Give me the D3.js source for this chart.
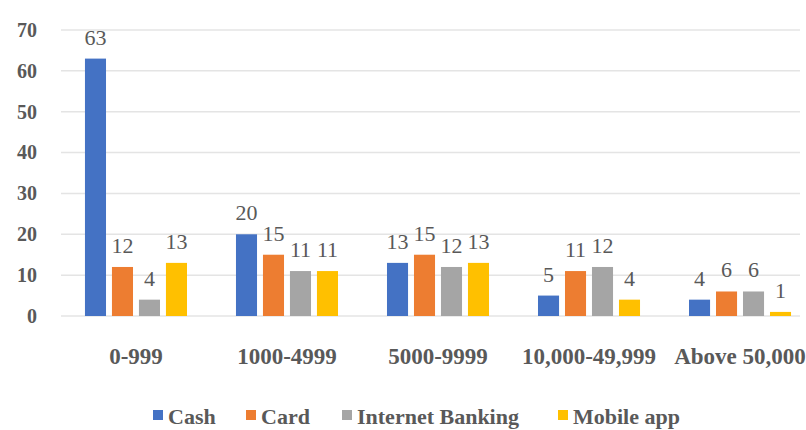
<!DOCTYPE html>
<html>
<head>
<meta charset="utf-8">
<script src="https://cdn.jsdelivr.net/npm/d3@7"></script>
<style>
  body { margin: 0; background: #fff; }
  svg text { font-family: "Liberation Serif", "DejaVu Serif", "Times New Roman", serif !important; }
</style>
</head>
<body>
<div id="chart"></div>
<script>
const categories = ["0-999", "1000-4999", "5000-9999", "10,000-49,999", "Above 50,000"];
const seriesNames = ["Cash", "Card", "Internet Banking", "Mobile app"];
const cash = [63, 20, 13, 5, 4];
const card = [12, 15, 15, 11, 6];
const internetBanking = [4, 11, 12, 12, 6];
const mobileApp = [13, 11, 13, 4, 1];
const yTicks = [0, 10, 20, 30, 40, 50, 60, 70];

const colors = ["#4472C4", "#ED7D31", "#A5A5A5", "#FFC000"];
const seriesValues = [cash, card, internetBanking, mobileApp];

const width = 806, height = 430;
const margin = {top: 30, right: 6, bottom: 114, left: 61};

const svg = d3.select("#chart").append("svg")
    .attr("width", width)
    .attr("height", height);

const g = svg.append("g")
    .attr("transform", "translate(" + margin.left + "," + margin.top + ")");

const innerW = width - margin.left - margin.right;
const innerH = height - margin.top - margin.bottom;

// band range runs a little past the gridlines, like the original
const x0 = d3.scaleBand().domain(categories).range([0, 754]).paddingInner(0.285).paddingOuter(0.139);
const x1 = d3.scaleBand().domain(seriesNames).range([0, x0.bandwidth()]).paddingInner(0.22).paddingOuter(0.11);
const y = d3.scaleLinear().domain([0, 70]).range([innerH, 0]);

// gridlines
g.selectAll(".grid")
    .data(yTicks)
    .join("line")
    .attr("x1", 0)
    .attr("x2", innerW)
    .attr("y1", d => y(d))
    .attr("y2", d => y(d))
    .attr("stroke", "#e4e4e4")
    .attr("stroke-width", 1.5);

// y axis labels
const yAxis = g.append("g")
    .call(d3.axisLeft(y).tickValues(yTicks).tickSize(0).tickPadding(24));
yAxis.select(".domain").remove();
yAxis.selectAll("text")
    .style("font-size", "20px")
    .style("font-weight", "bold")
    .attr("fill", "#595959");

// x axis labels
const xAxis = g.append("g")
    .attr("transform", "translate(0," + innerH + ")")
    .call(d3.axisBottom(x0).tickSize(0).tickPadding(32));
xAxis.select(".domain").remove();
xAxis.selectAll("text")
    .style("font-size", "23px")
    .style("font-weight", "bold")
    .attr("fill", "#595959");

// bars
const groups = g.selectAll(".catG")
    .data(categories)
    .join("g")
    .attr("class", "catG")
    .attr("transform", d => "translate(" + x0(d) + ",0)");

groups.selectAll("rect")
    .data((c, ci) => seriesNames.map((s, si) => ({series: s, si: si, value: seriesValues[si][ci]})))
    .join("rect")
    .attr("x", d => x1(d.series))
    .attr("y", d => y(d.value))
    .attr("width", x1.bandwidth())
    .attr("height", d => innerH - y(d.value))
    .attr("fill", d => colors[d.si]);

groups.selectAll(".val")
    .data((c, ci) => seriesNames.map((s, si) => ({series: s, si: si, value: seriesValues[si][ci]})))
    .join("text")
    .attr("class", "val")
    .attr("x", d => x1(d.series) + x1.bandwidth() / 2)
    .attr("y", d => y(d.value) - 14)
    .attr("text-anchor", "middle")
    .style("font-size", "22px")
    .attr("fill", "#595959")
    .text(d => d.value);

// legend
const legendX = [153, 246, 342, 558];
const legend = svg.append("g")
    .attr("transform", "translate(0,424)");

const items = legend.selectAll(".leg")
    .data(seriesNames)
    .join("g")
    .attr("class", "leg")
    .attr("transform", (d, i) => "translate(" + legendX[i] + ",0)");

items.append("rect")
    .attr("x", 0)
    .attr("y", -14)
    .attr("width", 10)
    .attr("height", 10)
    .attr("fill", (d, i) => colors[i]);

items.append("text")
    .attr("x", 15)
    .attr("y", 0)
    .style("font-size", "22px")
    .style("font-weight", "bold")
    .attr("fill", "#595959")
    .text(d => d);
</script>
</body>
</html>
